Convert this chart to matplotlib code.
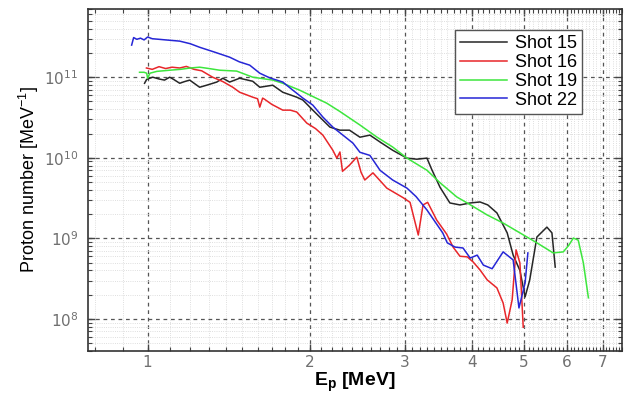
import numpy as np
import matplotlib
matplotlib.use("Agg")
import matplotlib.pyplot as plt
from matplotlib.ticker import FixedLocator, LogLocator, NullFormatter, FixedFormatter

# proton spectra, energy in MeV, number per MeV
e_15 = [0.987, 0.996, 1.022, 1.05, 1.075, 1.099, 1.12, 1.147, 1.17, 1.197, 1.249, 1.287,
        1.344, 1.379, 1.42, 1.482, 1.567, 1.615, 1.707, 1.782, 1.891, 1.942, 2.026, 2.115,
        2.18, 2.275, 2.37, 2.478, 2.586, 2.70, 2.85, 3.03, 3.16, 3.30, 3.37, 3.49, 3.64,
        3.80, 3.97, 4.14, 4.28, 4.45, 4.65, 4.77, 4.91, 5.02, 5.12, 5.28, 5.51, 5.63, 5.71]
n_15 = [8.4e10, 9.4e10, 1.0e11, 9.5e10, 9.2e10, 1.0e11, 9.3e10, 8.4e10, 8.8e10, 9.2e10,
        7.5e10, 7.95e10, 8.7e10, 9.7e10, 8.7e10, 9.7e10, 8.9e10, 7.5e10, 7.95e10, 6.5e10,
        5.65e10, 5.2e10, 3.9e10, 2.93e10, 2.4e10, 2.2e10, 2.2e10, 1.8e10, 1.91e10, 1.57e10,
        1.24e10, 9.9e9, 9.6e9, 9.9e9, 7.1e9, 4.3e9, 2.75e9, 2.6e9, 2.75e9, 2.83e9, 2.6e9,
        2.07e9, 1.17e9, 6.2e8, 4.0e8, 1.88e8, 3.05e8, 1.04e9, 1.38e9, 1.17e9, 4.4e8]

e_16 = [0.995, 1.02, 1.05, 1.08, 1.11, 1.147, 1.18, 1.22, 1.26, 1.32, 1.38, 1.439, 1.482,
        1.567, 1.60, 1.615, 1.635, 1.65, 1.70, 1.782, 1.84, 1.891, 1.975, 2.05, 2.115,
        2.207, 2.245, 2.275, 2.30, 2.37, 2.445, 2.49, 2.53, 2.62, 2.78, 2.98, 3.07, 3.18,
        3.245, 3.31, 3.44, 3.59, 3.69, 3.80, 3.92, 4.02, 4.14, 4.27, 4.45, 4.57, 4.65,
        4.75, 4.83, 4.91, 4.98]
n_16 = [1.3e11, 1.25e11, 1.35e11, 1.28e11, 1.33e11, 1.3e11, 1.36e11, 1.25e11, 1.2e11,
        1.0e11, 8.8e10, 7.5e10, 6.5e10, 5.65e10, 5.4e10, 4.25e10, 5.5e10, 5.3e10, 4.6e10,
        3.9e10, 3.9e10, 3.7e10, 2.69e10, 2.3e10, 1.91e10, 1.24e10, 9.9e9, 1.18e10, 6.8e9,
        8.1e9, 1.02e10, 6.6e9, 5.3e9, 6.5e9, 4.2e9, 3.2e9, 2.8e9, 1.1e9, 2.6e9, 2.8e9,
        1.69e9, 1.13e9, 7.8e8, 6.0e8, 5.9e8, 5.1e8, 4.06e8, 3.05e8, 2.43e8, 1.58e8, 8.9e7,
        1.73e8, 7.2e8, 4.95e8, 7.9e7]

e_19 = [0.966, 0.985, 0.996, 1.0, 1.01, 1.04, 1.099, 1.15, 1.20, 1.249, 1.30, 1.361, 1.463,
        1.567, 1.707, 1.782, 1.915, 2.0, 2.15, 2.275, 2.478, 2.666, 2.85, 3.03, 3.30, 3.49,
        3.75, 3.92, 4.27, 4.57, 4.91, 5.28, 5.66, 5.91, 6.05, 6.17, 6.30, 6.44, 6.58]
n_19 = [1.15e11, 1.15e11, 1.12e11, 9.7e10, 1.12e11, 1.18e11, 1.22e11, 1.25e11, 1.3e11,
        1.33e11, 1.28e11, 1.22e11, 1.19e11, 1.0e11, 9.2e10, 8.4e10, 6.9e10, 6.0e10, 4.76e10,
        3.75e10, 2.55e10, 1.8e10, 1.36e10, 9.9e9, 7.0e9, 4.9e9, 3.26e9, 2.75e9, 1.95e9,
        1.55e9, 1.17e9, 8.8e8, 6.6e8, 6.8e8, 8.2e8, 1.01e9, 9.5e8, 4.95e8, 1.83e8]

e_22 = [0.934, 0.942, 0.955, 0.97, 0.985, 1.0, 1.02, 1.05, 1.08, 1.147, 1.20, 1.249, 1.33,
        1.42, 1.48, 1.547, 1.615, 1.686, 1.782, 1.86, 1.942, 2.026, 2.115, 2.207, 2.304,
        2.405, 2.478, 2.586, 2.70, 2.85, 3.03, 3.15, 3.30, 3.53, 3.60, 3.72, 3.85, 3.97,
        4.09, 4.20, 4.36, 4.57, 4.77, 4.89, 5.02, 5.08]
n_22 = [2.5e11, 3.1e11, 2.95e11, 3.05e11, 2.9e11, 3.15e11, 3.0e11, 2.95e11, 2.9e11,
        2.8e11, 2.6e11, 2.35e11, 2.05e11, 1.77e11, 1.55e11, 1.41e11, 1.12e11, 9.8e10,
        8.7e10, 6.9e10, 5.5e10, 4.5e10, 3.2e10, 2.4e10, 1.91e10, 1.52e10, 1.17e10, 1.07e10,
        7.0e9, 5.3e9, 4.2e9, 3.3e9, 2.25e9, 1.17e9, 8.8e8, 7.8e8, 7.6e8, 5.7e8, 6.2e8,
        4.66e8, 4.2e8, 6.8e8, 5.4e8, 1.37e8, 2.8e8, 6.6e8]

labels = ["Shot 15", "Shot 16", "Shot 19", "Shot 22"]
colors = ["#262626", "#e8262a", "#3de63d", "#2626d6"]

x_major = [1, 2, 3, 4, 5, 6, 7]

fig = plt.figure(figsize=(6.24, 3.94), dpi=100)
ax = fig.add_axes([0.141, 0.109, 0.856, 0.868])

for e, n, lab, c in zip([e_15, e_16, e_19, e_22], [n_15, n_16, n_19, n_22], labels, colors):
    ax.plot(e, n, color=c, lw=1.1, label=lab)

ax.set_xscale("log")
ax.set_yscale("log")
ax.set_xlim(0.775, 7.6)
ax.set_ylim(4e7, 7e11)

# ticks: integers as majors, tenths as minors
minor = [v for v in np.round(np.arange(0.8, 7.65, 0.1), 1) if v not in x_major]
ax.xaxis.set_major_locator(FixedLocator(x_major))
ax.xaxis.set_major_formatter(FixedFormatter([str(v) for v in x_major]))
ax.xaxis.set_minor_locator(FixedLocator(minor))
ax.xaxis.set_minor_formatter(NullFormatter())
ax.yaxis.set_major_locator(LogLocator(base=10))
ax.yaxis.set_minor_locator(LogLocator(base=10, subs=np.arange(2, 10)))
ax.yaxis.set_minor_formatter(NullFormatter())

ax.tick_params(which="both", direction="in", top=True, right=True, colors="#444444",
               labelcolor="#707070", labelsize=11)
ax.tick_params(which="major", length=5, width=1.0)
ax.tick_params(which="minor", length=3, width=0.8)
ax.tick_params(axis="y", which="major", pad=7)
ax.tick_params(axis="x", which="major", pad=3)

ax.grid(which="major", ls=(0, (3, 3)), color="#555555", lw=0.9)
ax.grid(which="minor", ls=":", color="#d4d4d4", lw=0.6)
ax.set_axisbelow(True)
for s in ax.spines.values():
    s.set_color("#333333")
    s.set_linewidth(1.2)

ax.set_ylabel("Proton number [MeV$^{\\mathregular{-1}}$]", fontsize=13,
              family="Liberation Sans", labelpad=2)
ax.set_xlabel("E$_\\mathregular{p}$ [MeV]", fontsize=14, family="Liberation Sans",
              fontweight="bold", labelpad=0)

leg = ax.legend(loc="upper right", bbox_to_anchor=(0.925, 0.939), borderaxespad=0,
                fancybox=False, edgecolor="#555555", framealpha=1,
                prop={"family": "Liberation Sans", "size": 13},
                labelspacing=0.1, handlelength=2.6, handletextpad=0.4, borderpad=0.3)
leg.get_frame().set_linewidth(1.0)

fig.savefig("out.png", dpi=100)
